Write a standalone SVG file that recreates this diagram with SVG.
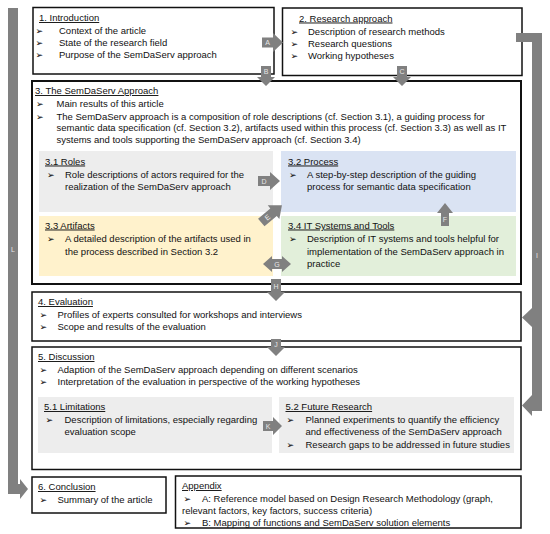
<svg xmlns="http://www.w3.org/2000/svg" width="550" height="534" viewBox="0 0 550 534">
<style>
text{font-family:"Liberation Sans","DejaVu Sans",sans-serif;font-size:9.5px;fill:#111}
.t{text-decoration:underline}
.b{font-family:"DejaVu Sans",sans-serif;font-size:9px;fill:#000}
.box{fill:#fff;stroke:#111;stroke-width:1.5}
.arr{fill:#808080}
.lbl{font-size:7px;fill:#e6e6e6;text-anchor:middle}
</style>
<rect width="550" height="534" fill="#fff"/>

<g id="n1">
<rect class="box" x="33" y="7.5" width="241" height="66.5"/>
<text class="t" x="39" y="21">1. Introduction</text>
<text class="b" x="35.5" y="33.5">➢</text><text x="59" y="33.5">Context of the article</text>
<text class="b" x="35.5" y="46">➢</text><text x="59" y="46">State of the research field</text>
<text class="b" x="35.5" y="58">➢</text><text x="59" y="58">Purpose of the SemDaServ approach</text>
</g>

<g id="n2">
<rect class="box" x="282.5" y="8" width="239.5" height="67.5"/>
<text class="t" x="299" y="21.5">2. Research approach</text>
<text class="b" x="290.5" y="35">➢</text><text x="308" y="35">Description of research methods</text>
<text class="b" x="290.5" y="46.5">➢</text><text x="308" y="46.5">Research questions</text>
<text class="b" x="290.5" y="58.5">➢</text><text x="308" y="58.5">Working hypotheses</text>
</g>

<g id="n3">
<rect class="box" x="32" y="81" width="489" height="203" style="stroke-width:2"/>
<text class="t" x="35" y="94">3. The SemDaServ Approach</text>
<text class="b" x="36" y="107">➢</text><text x="56.5" y="107">Main results of this article</text>
<text class="b" x="36" y="119.5">➢</text><text x="56.5" y="119.5">The SemDaServ approach is a composition of role descriptions (cf. Section 3.1),  a guiding process for</text>
<text x="56.5" y="131">semantic data specification (cf. Section 3.2), artifacts used within this process (cf. Section 3.3) as well as IT</text>
<text x="56.5" y="142.5">systems and tools supporting the SemDaServ approach (cf. Section 3.4)</text>
</g>

<g id="n31">
<rect x="39" y="151" width="234" height="61" fill="#ededed"/>
<text class="t" x="45" y="164.5">3.1 Roles</text>
<text class="b" x="47" y="177.5">➢</text><text x="65" y="177.5">Role descriptions of actors required for the</text>
<text x="65" y="190">realization of the SemDaServ approach</text>
</g>

<g id="n32">
<rect x="281" y="151" width="235" height="61" fill="#dae3f3"/>
<text class="t" x="288" y="164.5">3.2 Process</text>
<text class="b" x="289" y="177.5">➢</text><text x="307" y="177.5">A step-by-step description of the guiding</text>
<text x="307" y="190">process for semantic data specification</text>
</g>

<g id="n33">
<rect x="39" y="216" width="234" height="60" fill="#fff2cc"/>
<text class="t" x="45" y="228.5">3.3 Artifacts</text>
<text class="b" x="47" y="242">➢</text><text x="65" y="242">A detailed description of the artifacts used in</text>
<text x="65" y="254.5">the process described in Section 3.2</text>
</g>

<g id="n34">
<rect x="281" y="216" width="235" height="60" fill="#e2efda"/>
<text class="t" x="288" y="228.5">3.4 IT Systems and Tools</text>
<text class="b" x="289" y="242">➢</text><text x="307" y="242">Description of IT systems and tools helpful for</text>
<text x="307" y="254.5">implementation of the SemDaServ approach in</text>
<text x="307" y="267">practice</text>
</g>

<g id="n4">
<rect class="box" x="32" y="292" width="489" height="49"/>
<text class="t" x="38" y="305">4. Evaluation</text>
<text class="b" x="39.5" y="318">➢</text><text x="57.5" y="318">Profiles of experts consulted for workshops and interviews</text>
<text class="b" x="39.5" y="329.5">➢</text><text x="57.5" y="329.5">Scope and results of the evaluation</text>
</g>

<g id="n5">
<rect class="box" x="32" y="347" width="489" height="122.5"/>
<text class="t" x="38" y="360">5. Discussion</text>
<text class="b" x="39.5" y="373">➢</text><text x="57.5" y="373">Adaption of the SemDaServ approach depending on different scenarios</text>
<text class="b" x="39.5" y="384.5">➢</text><text x="57.5" y="384.5">Interpretation of the evaluation in perspective of the working hypotheses</text>
</g>

<g id="n51">
<rect x="38" y="397" width="234" height="56" fill="#ededed"/>
<text class="t" x="44" y="410">5.1 Limitations</text>
<text class="b" x="45.5" y="423">➢</text><text x="64.5" y="423">Description of limitations, especially regarding</text>
<text x="64.5" y="435">evaluation scope</text>
</g>

<g id="n52">
<rect x="279" y="397" width="235" height="56" fill="#ededed"/>
<text class="t" x="285.5" y="410">5.2 Future Research</text>
<text class="b" x="286.5" y="423">➢</text><text x="305.5" y="423">Planned experiments to quantify the efficiency</text>
<text x="305.5" y="435">and effectiveness of the SemDaServ approach</text>
<text class="b" x="286.5" y="447.5">➢</text><text x="305.5" y="447.5">Research gaps to be addressed in future studies</text>
</g>

<g id="n6">
<rect class="box" x="32" y="477" width="134" height="36"/>
<text class="t" x="38" y="490">6. Conclusion</text>
<text class="b" x="39.5" y="502.5">➢</text><text x="57.5" y="502.5">Summary of the article</text>
</g>

<g id="nApp">
<rect class="box" x="175.5" y="476" width="345.5" height="52"/>
<text class="t" x="182" y="489">Appendix</text>
<text class="b" x="183.5" y="501.5">➢</text><text x="202" y="501.5">A: Reference model based on Design Research Methodology (graph,</text>
<text x="182" y="513.5">relevant factors, key factors, success criteria)</text>
<text class="b" x="183.5" y="525.5">➢</text><text x="202" y="525.5">B: Mapping of functions and SemDaServ solution elements</text>
</g>

<g id="connectors">
<path class="arr" d="M262,37.5 H273 V33 L283,42.5 L273,52 V47.5 H262 Z"/>
<text class="lbl" x="267.5" y="45">A</text>
<path class="arr" d="M261,66 H271 V77 H275 L266,86 L257,77 H261 Z"/>
<text class="lbl" x="266" y="74">B</text>
<path class="arr" d="M397,66 H407 V77 H411 L402,86 L393,77 H397 Z"/>
<text class="lbl" x="402" y="74">C</text>
<path class="arr" d="M258,176 H270 V172 L280,181 L270,190 V186 H258 Z"/>
<text class="lbl" x="264" y="183.5">D</text>
<g transform="translate(272,213.5) rotate(-40)">
<path class="arr" d="M-14,-5 H2 V-9 L13,0 L2,9 V5 H-14 Z"/>
<text class="lbl" x="-6" y="2.5">E</text>
</g>
<path class="arr" d="M441,226 V213 H437 L445,203 L453,213 H449 V226 Z"/>
<text class="lbl" x="445" y="222">F</text>
<path class="arr" d="M263,264 L272,256 V259 H282 V256 L291,264 L282,272 V269 H272 V272 Z"/>
<text class="lbl" x="277" y="266.5">G</text>
<path class="arr" d="M271,279 H281 V292 H285 L276,301 L267,292 H271 Z"/>
<text class="lbl" x="276" y="289">H</text>
<path class="arr" d="M516,33 H542 V411 H532 V416 L522,405.5 L532,395 V42 H516 Z"/>
<path class="arr" d="M532,308 L522,317.5 L532,327 Z"/>
<text class="lbl" x="537" y="258">I</text>
<path class="arr" d="M271,339 H281 V347 H285 L276,356 L267,347 H271 Z"/>
<text class="lbl" x="276" y="346.5">J</text>
<path class="arr" d="M263,421 H273 V417 L282,426 L273,435 V431 H263 Z"/>
<text class="lbl" x="268" y="428.5">K</text>
<path class="arr" d="M8,8 H18 V484 H20 V479 L28,489 L20,499 V494 H8 Z"/>
<text class="lbl" x="13" y="252">L</text>
</g>
</svg>
